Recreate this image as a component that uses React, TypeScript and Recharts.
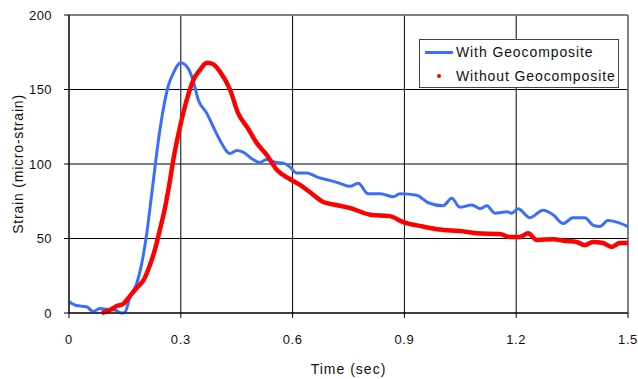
import React from "react";
import { LineChart, Line, XAxis, YAxis, CartesianGrid, ReferenceLine } from "recharts";

const xTicks = [0, 0.3, 0.6, 0.9, 1.2, 1.5];
const yTicks = [0, 50, 100, 150, 200];

const withTime = [0, 0.02, 0.047, 0.065, 0.083, 0.101, 0.123, 0.141, 0.15, 0.164, 0.182, 0.195, 0.209, 0.222, 0.244, 0.266, 0.28, 0.3, 0.32, 0.333, 0.347, 0.37, 0.387, 0.405, 0.432, 0.45, 0.467, 0.494, 0.512, 0.53, 0.557, 0.575, 0.593, 0.61, 0.638, 0.668, 0.7, 0.727, 0.754, 0.776, 0.803, 0.835, 0.87, 0.888, 0.933, 0.964, 1.004, 1.027, 1.049, 1.081, 1.103, 1.121, 1.143, 1.175, 1.188, 1.205, 1.237, 1.272, 1.299, 1.326, 1.352, 1.384, 1.406, 1.425, 1.446, 1.47, 1.5];
const withStrain = [7.5, 5, 4.2, 1, 3, 2.5, 2, 0, 0.5, 11, 20, 33, 54, 80, 123, 152, 161, 168, 164, 156, 143, 134, 125, 116, 107, 109, 108, 103, 101, 103, 101, 100.6, 98, 94, 94, 91, 89, 87, 85, 87, 80, 80, 78, 80, 79, 74, 72, 77, 71, 72.5, 70, 72, 67, 68, 67, 70, 64, 69, 66, 60, 64, 64, 59, 58, 62, 61, 58];

const withoutTime = [0.088, 0.11, 0.128, 0.145, 0.159, 0.182, 0.2, 0.217, 0.23, 0.244, 0.258, 0.271, 0.28, 0.298, 0.316, 0.333, 0.351, 0.37, 0.387, 0.405, 0.432, 0.454, 0.48, 0.504, 0.531, 0.558, 0.585, 0.62, 0.647, 0.682, 0.718, 0.754, 0.808, 0.861, 0.897, 0.95, 0.995, 1.049, 1.094, 1.156, 1.183, 1.21, 1.232, 1.255, 1.299, 1.335, 1.362, 1.384, 1.406, 1.433, 1.456, 1.478, 1.5];
const withoutStrain = [0, 2, 4.7, 6, 10, 17, 22, 32, 42, 56, 71, 89, 103, 125, 143, 156, 163, 168, 167, 162, 150, 134, 124, 114, 106, 96, 91, 86, 81, 74.5, 72.5, 70.5, 66, 65, 61, 58, 56, 55, 53.5, 53, 51, 51, 53.5, 49, 49.5, 48.3, 47.7, 45.6, 47.7, 47, 44.3, 47, 47];

const seriesNames = ["With Geocomposite", "Without Geocomposite"];

const withData = withTime.map((t, i) => ({ t, v: withStrain[i] }));
const withoutData = withoutTime.map((t, i) => ({ t, v: withoutStrain[i] }));

const FONT = "'Liberation Sans', Arial, sans-serif";
const BLUE = "#3A6EFF";
const RED = "#FF0000";

export default function App() {
  return (
    <div style={{ position: "absolute", left: 0, top: 0, width: 638, height: 379, background: "#fff", fontFamily: FONT }}>
      <LineChart width={638} height={379} margin={{ top: 15, right: 10, left: 0, bottom: 26 }}>
        <CartesianGrid stroke="#000" strokeWidth={1} horizontalValues={yTicks} verticalValues={xTicks} />
        <XAxis
          type="number"
          dataKey="t"
          domain={[0, 1.5]}
          ticks={xTicks}
          allowDuplicatedCategory={false}
          height={40}
          stroke="#000"
          tickSize={5}
          tickMargin={17}
          tickFormatter={(v: number) => String(v)}
          tick={{ fontSize: 13, fill: "#111", fontFamily: FONT, letterSpacing: 0.6 }}
          label={{
            content: (props: any) => {
              const vb = props.viewBox;
              return (
                <text x={vb.x + vb.width / 2} y={374} textAnchor="middle" fontSize={14} fill="#111" fontFamily={FONT} letterSpacing={1}>
                  Time (sec)
                </text>
              );
            },
          }}
        />
        <YAxis
          type="number"
          domain={[0, 200]}
          ticks={yTicks}
          width={69}
          stroke="#000"
          tickSize={5}
          tickMargin={12}
          tick={{ fontSize: 13, fill: "#111", fontFamily: FONT, letterSpacing: 0.4 }}
          label={{
            content: (props: any) => {
              const vb = props.viewBox;
              const cy = vb.y + vb.height / 2;
              return (
                <text x={23} y={cy} transform={`rotate(-90, 23, ${cy})`} textAnchor="middle" fontSize={14} fill="#111" fontFamily={FONT} letterSpacing={0.8}>
                  Strain (micro-strain)
                </text>
              );
            },
          }}
        />
        <ReferenceLine y={200} stroke="#808080" strokeWidth={1.5} />
        <ReferenceLine x={1.5} stroke="#808080" strokeWidth={1.5} />
        <Line data={withData} dataKey="v" name={seriesNames[0]} type="monotone" stroke={BLUE} strokeWidth={3} dot={false} isAnimationActive={false} />
        <Line data={withoutData} dataKey="v" name={seriesNames[1]} type="monotone" stroke={RED} strokeWidth={4.5} dot={false} isAnimationActive={false} />
      </LineChart>
      <div
        style={{
          position: "absolute",
          left: 419,
          top: 39,
          width: 200,
          height: 49,
          border: "1px solid #444",
          background: "#fff",
          boxSizing: "border-box",
          fontFamily: FONT,
          fontSize: 14,
          letterSpacing: 0.9,
          color: "#111",
        }}
      >
        <div style={{ position: "absolute", left: 5, top: 2, display: "flex", alignItems: "center", height: 20 }}>
          <span style={{ display: "inline-block", width: 28, height: 3, background: BLUE, marginRight: 3 }} />
          <span>{seriesNames[0]}</span>
        </div>
        <div style={{ position: "absolute", left: 5, top: 26, display: "flex", alignItems: "center", height: 20 }}>
          <span style={{ display: "inline-block", width: 28, marginRight: 3, position: "relative", height: 4 }}>
            <span style={{ position: "absolute", left: 12, top: 0, width: 4, height: 4, borderRadius: 2, background: RED }} />
          </span>
          <span>{seriesNames[1]}</span>
        </div>
      </div>
    </div>
  );
}
